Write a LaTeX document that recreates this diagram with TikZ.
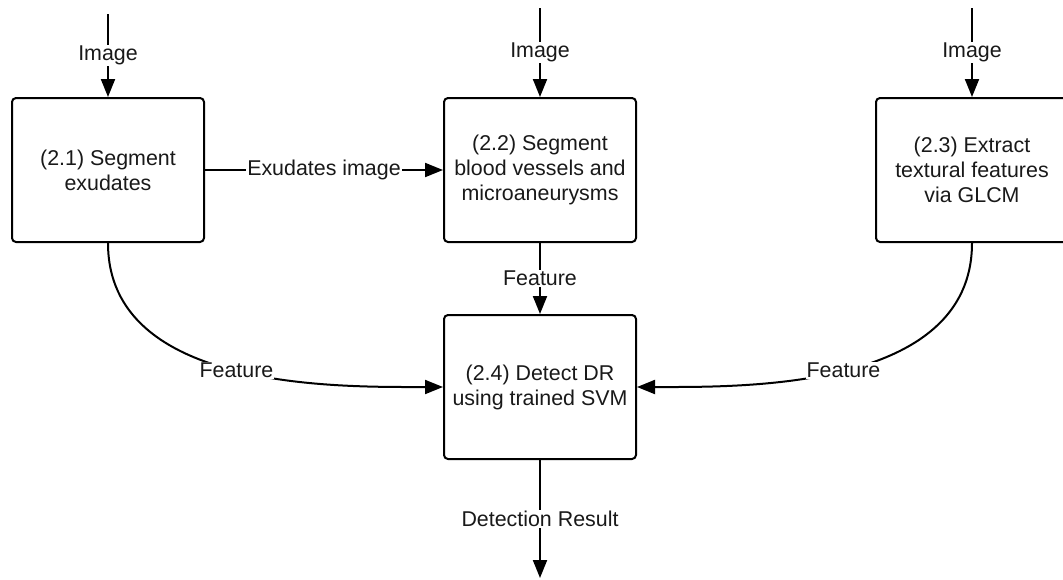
\documentclass[tikz,border=0pt]{standalone}
\usepackage{fontspec}
\setmainfont{Liberation Sans}
\usetikzlibrary{arrows.meta}
\begin{document}
\begin{tikzpicture}[x=1pt,y=-1pt,
  txt/.style={font=\fontsize{21.4}{25}\selectfont, text=black!90},
  proc/.style={txt, draw, line width=2pt, rounded corners=4pt,
    minimum width=192pt, minimum height=144pt, align=center, inner sep=0pt},
  flow/.style={line width=2pt, -{Triangle[length=18pt,width=14pt]}},
  lbl/.style={txt, fill=white, inner sep=1pt}]
\useasboundingbox (0,0) rectangle (1063,579);
\clip (0,0) rectangle (1063,579);

% processing steps
\node[proc] (s1) at (108,170) {(2.1) Segment\\exudates};
\node[proc] (s2) at (540,170) {(2.2) Segment\\blood vessels and\\microaneurysms};
\node[proc] (s3) at (972,170) {(2.3) Extract\\textural features\\via GLCM};
\node[proc] (s4) at (540,387) {(2.4) Detect DR\\using trained SVM};

% free ends of the input and output arrows
\coordinate (i1) at (108,14);
\coordinate (i2) at (540,8);
\coordinate (i3) at (972,8);
\coordinate (out) at (540,578);

% image inputs
\draw[flow] (i1) -- node[lbl] {Image} (s1.north);
\draw[flow] (i2) -- node[lbl] {Image} (s2.north);
\draw[flow] (i3) -- node[lbl] {Image} (s3.north);

% data between the steps
\draw[flow] (s1.east) -- node[lbl] {Exudates image} (s2.west);
\draw[flow] (s2.south) -- node[lbl] {Feature} (s4.north);
\draw[flow] (s1.south) .. controls +(0,148) and +(-104,0) ..
  node[lbl, pos=0.5] {Feature} (s4.west);
\draw[flow] (s3.south) .. controls +(0,148) and +(104,0) ..
  node[lbl, pos=0.5] {Feature} (s4.east);

% result
\draw[flow] (s4.south) -- node[lbl] {Detection Result} (out);
\end{tikzpicture}
\end{document}
